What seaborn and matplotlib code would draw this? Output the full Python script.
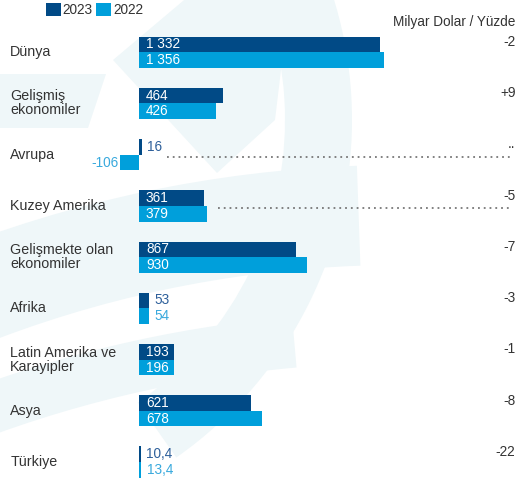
import numpy as np
import pandas as pd
import matplotlib
matplotlib.use("Agg")
import matplotlib.pyplot as plt
from matplotlib.patches import Wedge, Polygon
from matplotlib.transforms import Affine2D
import seaborn as sns

# --Data--
regions = ["Dünya", "Gelişmiş\nekonomiler", "Avrupa", "Kuzey Amerika",
           "Gelişmekte olan\nekonomiler", "Afrika", "Latin Amerika ve\nKarayipler",
           "Asya", "Türkiye"]
val_2023 = [1332, 464, 16, 361, 867, 53, 193, 621, 10.4]
val_2022 = [1356, 426, -106, 379, 930, 54, 196, 678, 13.4]
change_pct = ["-2", "+9", "..", "-5", "-7", "-3", "-1", "-8", "-22"]
dotted_rows = ["Avrupa", "Kuzey Amerika"]

years = ["2023", "2022"]
colors = {"2023": "#014a86", "2022": "#009fdb"}
label_colors = {"2023": "#2d5f9a", "2022": "#38a9dd"}

df = pd.DataFrame({
    "region": regions * 2,
    "year": ["2023"] * len(regions) + ["2022"] * len(regions),
    "value": val_2023 + val_2022,
})


def fmt(v):
    if float(v).is_integer():
        return f"{int(v):,}".replace(",", " ")
    return f"{v:.1f}".replace(".", ",")


plt.rcParams["font.family"] = ["Liberation Sans", "DejaVu Sans"]

W, H = 516, 482
fig = plt.figure(figsize=(W / 100, H / 100), dpi=100)
fig.patch.set_facecolor("white")

# -faint background watermark (pixel coords, y downwards)
pix = Affine2D().scale(1, -1) + Affine2D().translate(0, H)
wm = "#eff7f9"
for (cx, cy), r, w, t1, t2 in [((-60, 120), 412, 67, -62, 55),
                               ((400, 1400), 1235, 100, -112, -92),
                               ((400, 1550), 1238, 51, -112, -95)]:
    fig.patches.append(Wedge((cx, cy), r, t1, t2, width=w, transform=pix,
                             facecolor=wm, edgecolor="none", zorder=0))
for pts in [[(113, 60), (190, -5), (290, -5), (275, 120), (217, 173)],
            [(0, 74), (106, 74), (88, 128), (0, 128)]]:
    fig.patches.append(Polygon(pts, closed=True, transform=pix,
                               facecolor=wm, edgecolor="none", zorder=0))

ax = fig.add_axes([0, 0, 1, 1])
ax.set_zorder(2)
ax.set_facecolor("none")

sns.barplot(data=df, y="region", x="value", hue="year", hue_order=years,
            order=regions, palette=colors, orient="h", width=0.61,
            dodge=True, ax=ax, saturation=1, legend=True)

px = 0.1807  # pixels per unit
ax.set_xlim(-139 / px, (W - 139) / px)
ax.set_ylim(8.39, -1.02)
ax.axis("off")

# -category labels and percent changes
for i, r in enumerate(regions):
    ax.text(0.02, i, r, transform=ax.get_yaxis_transform(), ha="left", va="center",
            fontsize=10.3, color="#333333", linespacing=1.0)
    ax.text(0.999, i - 0.2, change_pct[i], transform=ax.get_yaxis_transform(),
            ha="right", va="center", fontsize=9.8, color="#333333")

# -value labels
for k, yr in enumerate(years):
    vals = val_2023 if yr == "2023" else val_2022
    for i, v in enumerate(vals):
        yy = i - 0.155 + 0.31 * k
        if v >= 100:
            ax.annotate(fmt(v), (0, yy), xytext=(5, 0), textcoords="offset points",
                        ha="left", va="center", fontsize=9.8, color="white")
        elif v >= 0:
            ax.annotate(fmt(v), (v, yy), xytext=(4, 0), textcoords="offset points",
                        ha="left", va="center", fontsize=9.8, color=label_colors[yr])
        else:
            ax.annotate(fmt(v), (v, yy), xytext=(-1, 0), textcoords="offset points",
                        ha="right", va="center", fontsize=9.8, color=label_colors[yr])

# -dotted leader lines
for r in dotted_rows:
    i = regions.index(r)
    start = max(val_2023[i], val_2022[i]) + (140 if r == "Avrupa" else 58)
    ax.plot([start, 2053], [i + 0.05, i + 0.05], linestyle=(0, (1, 2.2)),
            color="#777777", linewidth=1.3)

ax.text(0.999, 0.955, "Milyar Dolar / Yüzde", transform=ax.transAxes,
        ha="right", va="center", fontsize=9.8, color="#333333")

sns.move_legend(ax, "upper left", bbox_to_anchor=(0.083, 1.0), ncol=2, title=None,
                frameon=False, handlelength=1.1, handleheight=1.1, handletextpad=0.15,
                columnspacing=0.25, fontsize=9.8, borderaxespad=0, borderpad=0.2)
for t in ax.get_legend().get_texts():
    t.set_color("#333333")

fig.savefig("out.png", dpi=100)
